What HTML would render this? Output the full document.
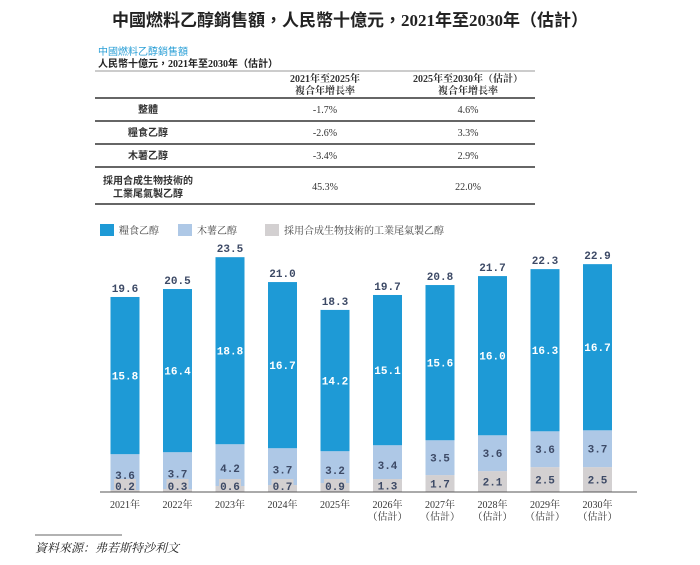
<!DOCTYPE html>
<html><head><meta charset="utf-8">
<style>
body{margin:0;background:#fff;width:700px;height:565px;overflow:hidden;position:relative;font-family:"Liberation Serif","Noto Serif CJK SC",serif;}
.abs{position:absolute;}
.t{font-family:"Liberation Sans","Noto Sans CJK TC",sans-serif;}
</style></head><body>
<div class="abs" style="left:0;width:700px;top:6px;text-align:center;font-size:17px;font-weight:bold;color:#222;font-family:'Liberation Serif','Noto Sans CJK TC',serif;">中國燃料乙醇銷售額，人民幣十億元，2021年至2030年（估計）</div>
<div class="abs t" style="left:98px;top:43px;font-size:10px;color:#2a9fd6;">中國燃料乙醇銷售額</div>
<div class="abs" style="left:98px;top:55px;font-size:10px;color:#222;font-family:'Liberation Serif','Noto Sans CJK TC',serif;font-weight:bold">人民幣十億元，2021年至2030年（估計）</div>
<svg class="abs" style="left:0;top:0" width="700" height="565">
<g font-size="10" fill="#333" text-anchor="middle">
<line x1="95" y1="71" x2="535" y2="71" stroke="#999" stroke-width="1"/>
<line x1="95" y1="98" x2="535" y2="98" stroke="#333" stroke-width="1.5"/>
<line x1="95" y1="121" x2="535" y2="121" stroke="#333" stroke-width="1.5"/>
<line x1="95" y1="144" x2="535" y2="144" stroke="#333" stroke-width="1.5"/>
<line x1="95" y1="167" x2="535" y2="167" stroke="#333" stroke-width="1.5"/>
<line x1="95" y1="204" x2="535" y2="204" stroke="#333" stroke-width="1.5"/>
<text x="325" y="82" font-weight="bold">2021年至2025年</text>
<text x="325" y="94" font-weight="bold">複合年增長率</text>
<text x="468" y="82" font-weight="bold">2025年至2030年（估計）</text>
<text x="468" y="94" font-weight="bold">複合年增長率</text>
<g font-family='"Liberation Sans","Noto Sans CJK TC",sans-serif' font-weight="bold">
<text x="148" y="113">整體</text>
<text x="148" y="136">糧食乙醇</text>
<text x="148" y="159">木薯乙醇</text>
<text x="148" y="184">採用合成生物技術的</text><text x="148" y="197">工業尾氣製乙醇</text>
</g>
<text x="325" y="113">-1.7%</text><text x="468" y="113">4.6%</text>
<text x="325" y="136">-2.6%</text><text x="468" y="136">3.3%</text>
<text x="325" y="159">-3.4%</text><text x="468" y="159">2.9%</text>
<text x="325" y="190">45.3%</text><text x="468" y="190">22.0%</text>
</g>
<g font-size="10" fill="#444">
<rect x="100" y="224" width="14" height="12" fill="#1e9ad6"/>
<text x="119" y="234">糧食乙醇</text>
<rect x="178" y="224" width="14" height="12" fill="#aec8e6"/>
<text x="197" y="234">木薯乙醇</text>
<rect x="265" y="224" width="14" height="12" fill="#d3d0d1"/>
<text x="284" y="234">採用合成生物技術的工業尾氣製乙醇</text>
</g>
<g id="bars"></g>
<line x1="100" y1="492" x2="637" y2="492" stroke="#555" stroke-width="1"/>
<line x1="35" y1="535" x2="122" y2="535" stroke="#333" stroke-width="0.8"/>
<text x="35" y="552" font-size="12" font-style="italic" fill="#222">資料來源：弗若斯特沙利文</text>
</svg>
<script>
const categories=["2021年","2022年","2023年","2024年","2025年","2026年","2027年","2028年","2029年","2030年"];
const estimated=[false,false,false,false,false,true,true,true,true,true];
const grain=[15.8,16.4,18.8,16.7,14.2,15.1,15.6,16.0,16.3,16.7];
const cassava=[3.6,3.7,4.2,3.7,3.2,3.4,3.5,3.6,3.6,3.7];
const synbio=[0.2,0.3,0.6,0.7,0.9,1.3,1.7,2.1,2.5,2.5];
const totals=["19.6","20.5","23.5","21.0","18.3","19.7","20.8","21.7","22.3","22.9"];
const NS="http://www.w3.org/2000/svg";
const g=document.getElementById('bars');
const x0=125,step=52.5,bw=29,base=492,k=9.95;
const xc=i=>x0+i*step;
const y=v=>base-v*k;
function mk(tag,attrs){const e=document.createElementNS(NS,tag);for(const a in attrs)e.setAttribute(a,attrs[a]);return e;}
function lab(x,yy,txt,fill){const t=mk('text',{x:x,y:yy,'text-anchor':'middle','font-size':'11','font-weight':'bold','font-family':'"Liberation Mono",monospace',fill:fill});t.textContent=txt;return t;}
categories.forEach((c,i)=>{
  const cx=xc(i),l=cx-bw/2;
  const s=synbio[i],cv=cassava[i],gr=grain[i];
  const r1=mk('rect',{x:l,y:y(s),width:bw,height:s*k,fill:'#d3d0d1'});
  
  
  g.appendChild(r1);
  const r2=mk('rect',{x:l,y:y(s+cv),width:bw,height:cv*k,fill:'#aec8e6'});
  
  
  g.appendChild(r2);
  const r3=mk('rect',{x:l,y:y(s+cv+gr),width:bw,height:gr*k,fill:'#1e9ad6'});
  
  
  g.appendChild(r3);
  if(s*k<14){const bg=mk('rect',{x:cx-11,y:base-13,width:22,height:13,fill:'#d3d0d1'});g.appendChild(bg);}
  g.appendChild(lab(cx,Math.min(y(s/2)+4,base-2),s.toFixed(1),'#3d4a66'));
  g.appendChild(lab(cx,y(s+cv/2)+4+(s*k<14?3:0),cv.toFixed(1),'#3d4a66'));
  g.appendChild(lab(cx,y(s+cv+gr/2)+4,gr.toFixed(1),'#ffffff'));
  const tt=lab(cx,y(s+cv+gr)-5,totals[i],'#3d4a66');
  
  
  g.appendChild(tt);
  const xl=mk('text',{x:cx,y:508,'text-anchor':'middle','font-size':'10',fill:'#333'});
  xl.textContent=c;
  
  
  g.appendChild(xl);
  if(estimated[i]){const e=mk('text',{x:cx,y:520,'text-anchor':'middle','font-size':'10',fill:'#333'});e.textContent='（估計）';g.appendChild(e);}
});
</script>
</body></html>
